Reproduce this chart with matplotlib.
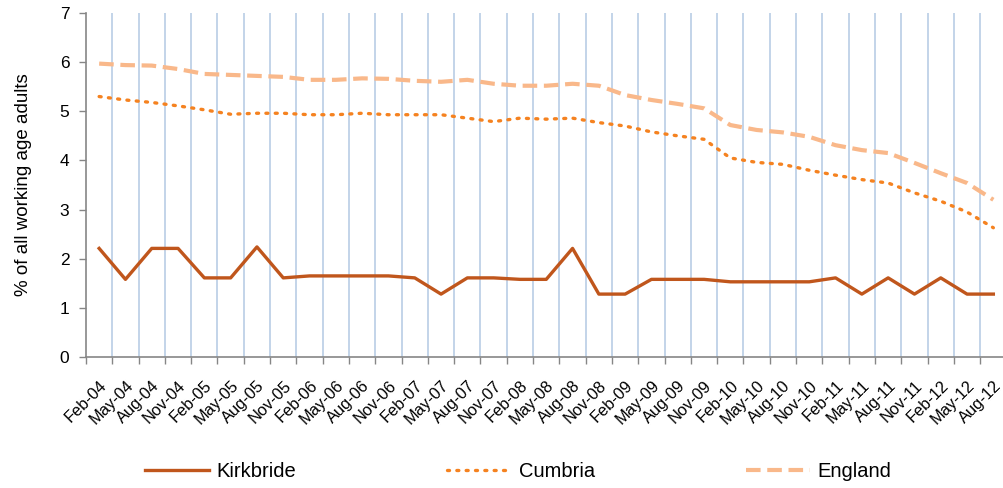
import numpy as np
import matplotlib
matplotlib.use("Agg")
import matplotlib.pyplot as plt

plt.rcParams['font.family'] = ['Liberation Sans', 'DejaVu Sans']

months = ["Feb", "May", "Aug", "Nov"]
labels = []
for yr in range(4, 13):
    for m in months:
        labels.append(f"{m}-{yr:02d}")
labels = labels[:35]

kirkbride = [2.21, 1.58, 2.21, 2.21, 1.61, 1.61, 2.24, 1.61, 1.65, 1.65, 1.65, 1.65,
             1.61, 1.28, 1.61, 1.61, 1.58, 1.58, 2.21, 1.28, 1.28, 1.58, 1.58, 1.58,
             1.53, 1.53, 1.53, 1.53, 1.61, 1.28, 1.61, 1.28, 1.61, 1.28, 1.28]
cumbria = [5.30, 5.23, 5.18, 5.11, 5.03, 4.94, 4.96, 4.96, 4.93, 4.93, 4.96, 4.93,
           4.93, 4.93, 4.86, 4.79, 4.86, 4.84, 4.86, 4.77, 4.70, 4.58, 4.50, 4.43,
           4.05, 3.96, 3.92, 3.80, 3.70, 3.61, 3.54, 3.34, 3.17, 2.95, 2.63]
england = [5.97, 5.94, 5.93, 5.86, 5.76, 5.74, 5.72, 5.70, 5.64, 5.64, 5.67, 5.66,
           5.62, 5.60, 5.64, 5.56, 5.52, 5.52, 5.56, 5.52, 5.33, 5.23, 5.15, 5.06,
           4.72, 4.62, 4.57, 4.48, 4.31, 4.21, 4.15, 3.95, 3.74, 3.54, 3.20]

x = np.arange(len(labels))

fig = plt.figure(figsize=(10.04, 4.88), dpi=100)
ax = fig.add_axes([86/1004, 1 - 357/488, 920.5/1004, 344/488])

bounds = np.arange(-0.5, len(labels), 1.0)
for b in bounds[1:]:
    ax.axvline(b, color='#B9CDE5', lw=1.2, zorder=0)

ax.plot(x, kirkbride, color='#C0561C', lw=2.4, label='Kirkbride', zorder=3)
ax.plot(x, cumbria, color='#F58220', lw=2.4, linestyle=(0, (0.6, 2.2)),
        dash_capstyle='round', label='Cumbria', zorder=3)
ax.plot(x, england, color='#F9B88A', lw=3.0, linestyle=(0, (3.5, 1.6)),
        label='England', zorder=3)

ax.set_xlim(-0.5, len(labels) - 0.5)
ax.set_ylim(0, 7)
ax.set_yticks(range(8))
ax.set_xticks(bounds)
ax.set_xticklabels([])
ax.set_xticks(x, minor=True)
ax.set_xticklabels(labels, minor=True, rotation=45, ha='right',
                   rotation_mode='anchor', fontsize=11.8)
ax.tick_params(axis='x', which='minor', length=0, pad=15)
ax.tick_params(axis='x', which='major', length=5, color='#868686', width=1)
ax.tick_params(axis='y', length=5, color='#868686', width=1, labelsize=12.5, pad=7)

for s in ['top', 'right']:
    ax.spines[s].set_visible(False)
for s in ['left', 'bottom']:
    ax.spines[s].set_color('#868686')
    ax.spines[s].set_linewidth(1.2)

ax.set_ylabel('% of all working age adults', fontsize=13.5, labelpad=20)

fig.legend(loc='center', bbox_to_anchor=(0.516, 0.033), ncol=3, frameon=False,
           fontsize=14.5, handlelength=3.2, columnspacing=7.5, handletextpad=0.35)

fig.savefig('out.png', dpi=100)
